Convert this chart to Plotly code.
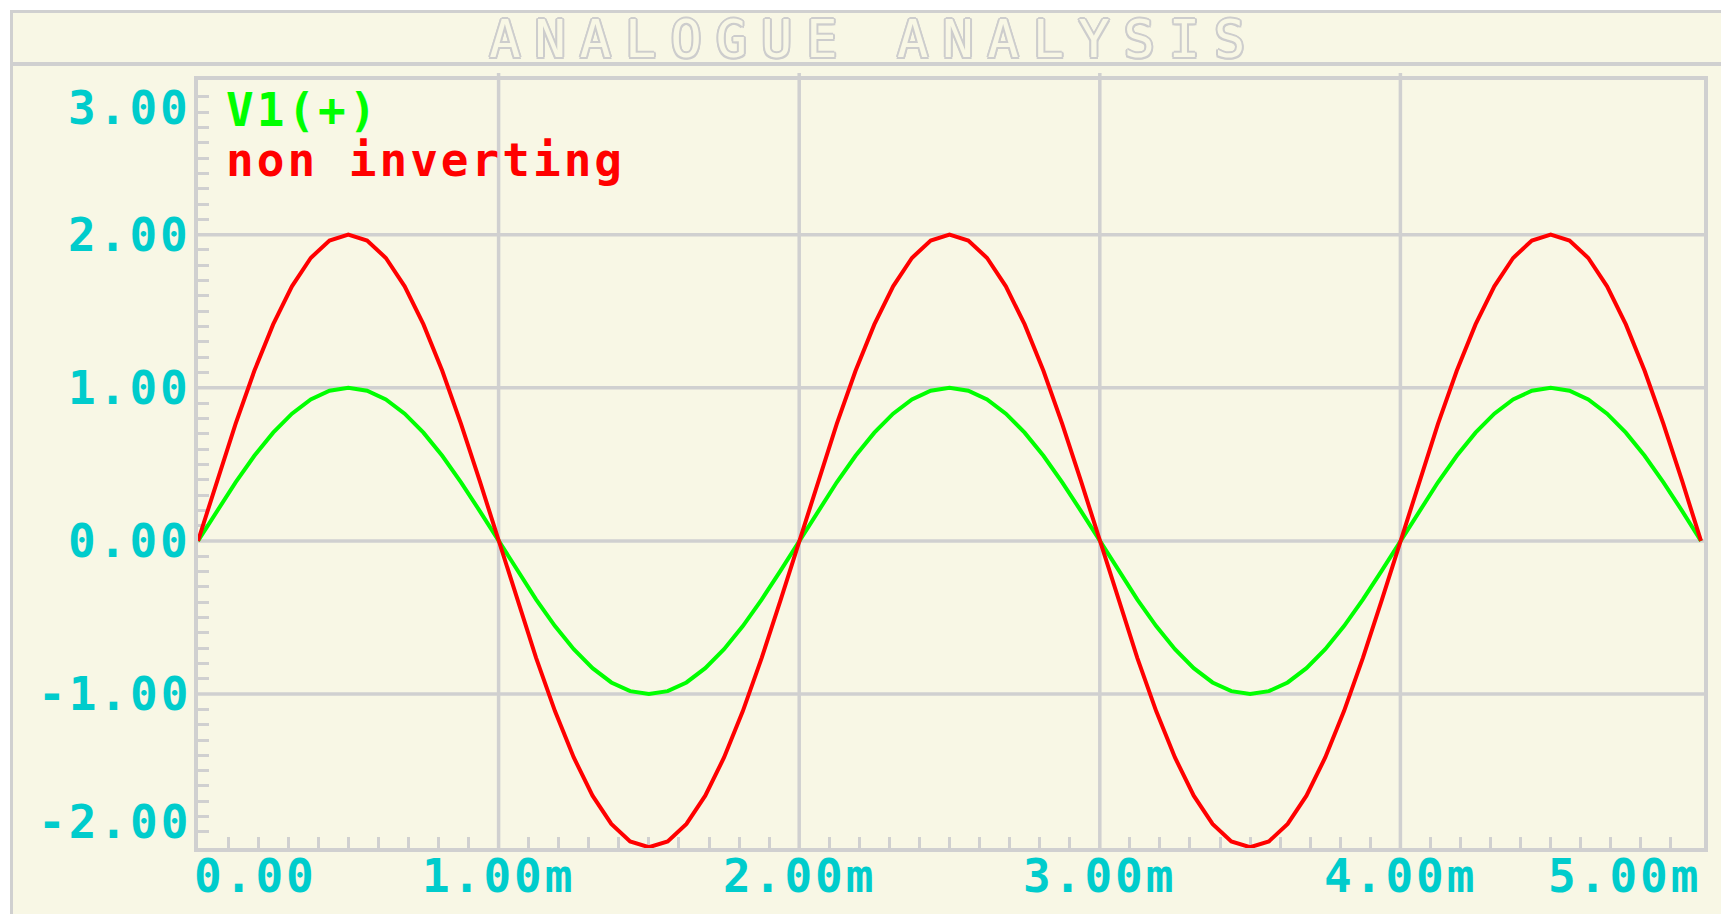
import plotly.graph_objects as go

# ---------------- data (time in ms, voltages in V) ----------------
time_ms = [
    0.0, 0.0625, 0.125, 0.1875, 0.25, 0.3125, 0.375, 0.4375,
    0.5, 0.5625, 0.625, 0.6875, 0.75, 0.8125, 0.875, 0.9375,
    1.0, 1.0625, 1.125, 1.1875, 1.25, 1.3125, 1.375, 1.4375,
    1.5, 1.5625, 1.625, 1.6875, 1.75, 1.8125, 1.875, 1.9375,
    2.0, 2.0625, 2.125, 2.1875, 2.25, 2.3125, 2.375, 2.4375,
    2.5, 2.5625, 2.625, 2.6875, 2.75, 2.8125, 2.875, 2.9375,
    3.0, 3.0625, 3.125, 3.1875, 3.25, 3.3125, 3.375, 3.4375,
    3.5, 3.5625, 3.625, 3.6875, 3.75, 3.8125, 3.875, 3.9375,
    4.0, 4.0625, 4.125, 4.1875, 4.25, 4.3125, 4.375, 4.4375,
    4.5, 4.5625, 4.625, 4.6875, 4.75, 4.8125, 4.875, 4.9375,
    5.0,
]

v1_plus = [
    0.0, 0.195, 0.383, 0.556, 0.707, 0.831, 0.924, 0.981,
    1.0, 0.981, 0.924, 0.831, 0.707, 0.556, 0.383, 0.195,
    0.0, -0.195, -0.383, -0.556, -0.707, -0.831, -0.924, -0.981,
    -1.0, -0.981, -0.924, -0.831, -0.707, -0.556, -0.383, -0.195,
    0.0, 0.195, 0.383, 0.556, 0.707, 0.831, 0.924, 0.981,
    1.0, 0.981, 0.924, 0.831, 0.707, 0.556, 0.383, 0.195,
    0.0, -0.195, -0.383, -0.556, -0.707, -0.831, -0.924, -0.981,
    -1.0, -0.981, -0.924, -0.831, -0.707, -0.556, -0.383, -0.195,
    0.0, 0.195, 0.383, 0.556, 0.707, 0.831, 0.924, 0.981,
    1.0, 0.981, 0.924, 0.831, 0.707, 0.556, 0.383, 0.195,
    0.0,
]

non_inverting = [
    0.0, 0.39, 0.765, 1.111, 1.414, 1.663, 1.848, 1.962,
    2.0, 1.962, 1.848, 1.663, 1.414, 1.111, 0.765, 0.39,
    0.0, -0.39, -0.765, -1.111, -1.414, -1.663, -1.848, -1.962,
    -2.0, -1.962, -1.848, -1.663, -1.414, -1.111, -0.765, -0.39,
    0.0, 0.39, 0.765, 1.111, 1.414, 1.663, 1.848, 1.962,
    2.0, 1.962, 1.848, 1.663, 1.414, 1.111, 0.765, 0.39,
    0.0, -0.39, -0.765, -1.111, -1.414, -1.663, -1.848, -1.962,
    -2.0, -1.962, -1.848, -1.663, -1.414, -1.111, -0.765, -0.39,
    0.0, 0.39, 0.765, 1.111, 1.414, 1.663, 1.848, 1.962,
    2.0, 1.962, 1.848, 1.663, 1.414, 1.111, 0.765, 0.39,
    0.0,
]

series_names = ["V1(+)", "non inverting"]

y_tick_vals = [3, 2, 1, 0, -1, -2]
y_tick_text = ["3.00", "2.00", "1.00", "0.00", "-1.00", "-2.00"]
y_grid_vals = [2, 1, 0, -1]

x_tick_vals = [0, 1, 2, 3, 4, 5]
x_tick_text = ["0.00", "1.00m", "2.00m", "3.00m", "4.00m", "5.00m"]
x_grid_vals = [1, 2, 3, 4]

title_text = "ANALOGUE ANALYSIS"

# ---------------- style ----------------
W, H = 1721, 914
ML, MR, MT, MB = 198, 17, 80, 66
PW, PH = W - ML - MR, H - MT - MB

CREAM = "#F8F7E5"
GREY = "#D0D0D0"
CYAN = "#00CCCC"
GREEN = "#00FF00"
RED = "#FF0000"
FONT = "DejaVu Sans Mono"
LBL_SIZE = 46
SPACING = "letter-spacing:3px"


def px_to_paper_x(px):
    return (px - ML) / PW


def px_to_paper_y(py):
    return (H - MB - py) / PH


fig = go.Figure()
fig.add_trace(go.Scatter(x=time_ms, y=v1_plus, mode="lines", name=series_names[0],
                         line=dict(color=GREEN, width=4)))
fig.add_trace(go.Scatter(x=time_ms, y=non_inverting, mode="lines", name=series_names[1],
                         line=dict(color=RED, width=4)))

shapes = []
# outer cream frame
shapes.append(dict(type="rect", xref="paper", yref="paper",
                   x0=px_to_paper_x(11.5), x1=px_to_paper_x(W + 10),
                   y0=px_to_paper_y(H + 10), y1=px_to_paper_y(11.5),
                   fillcolor=CREAM, line=dict(color=GREY, width=3), layer="below"))
# title separator
shapes.append(dict(type="line", xref="paper", yref="paper",
                   x0=px_to_paper_x(11), x1=px_to_paper_x(W + 5),
                   y0=px_to_paper_y(64), y1=px_to_paper_y(64),
                   line=dict(color=GREY, width=4), layer="below"))
# vertical grid lines with small stubs above the frame
for xv in x_grid_vals:
    shapes.append(dict(type="line", xref="x", yref="paper",
                       x0=xv, x1=xv, y0=0, y1=px_to_paper_y(73),
                       line=dict(color=GREY, width=3.5), layer="below"))
# horizontal grid lines
for yv in y_grid_vals:
    shapes.append(dict(type="line", xref="paper", yref="y",
                       x0=0, x1=1, y0=yv, y1=yv,
                       line=dict(color=GREY, width=3.5), layer="below"))

annotations = []
for v, t in zip(y_tick_vals, y_tick_text):
    if v == max(y_tick_vals):
        ya, ys = "top", 3
    elif v == min(y_tick_vals):
        ya, ys = "bottom", -4
    else:
        ya, ys = "middle", 0
    annotations.append(dict(xref="paper", yref="y", x=0, y=v, xanchor="right", yanchor=ya,
                            xshift=-5, yshift=ys, showarrow=False,
                            text=f'<span style="{SPACING}">{t}</span>',
                            font=dict(family=FONT, size=LBL_SIZE, color=CYAN, weight="bold")))
for v, t in zip(x_tick_vals, x_tick_text):
    if v == min(x_tick_vals):
        xa, xs = "left", -6
    elif v == max(x_tick_vals):
        xa, xs = "right", 2
    else:
        xa, xs = "center", 0
    annotations.append(dict(xref="x", yref="paper", x=v, y=0, xanchor=xa, yanchor="top",
                            xshift=xs, yshift=1, showarrow=False,
                            text=f'<span style="{SPACING}">{t}</span>',
                            font=dict(family=FONT, size=LBL_SIZE, color=CYAN, weight="bold")))
# legend as coloured text
for i, (name, col) in enumerate(zip(series_names, [GREEN, RED])):
    annotations.append(dict(xref="paper", yref="paper", x=0, y=1, xanchor="left", yanchor="top",
                            xshift=26, yshift=-1 - 50 * i, showarrow=False,
                            text=f'<span style="{SPACING}">{name}</span>',
                            font=dict(family=FONT, size=LBL_SIZE, color=col, weight="bold")))

outline = ", ".join(f"{dx}px {dy}px 0px #CDCDCD" for dx, dy in
                    [(2, 0), (-2, 0), (0, 2), (0, -2), (1.5, 1.5), (-1.5, -1.5), (1.5, -1.5), (-1.5, 1.5)])

fig.update_layout(
    width=W, height=H,
    margin=dict(l=ML, r=MR, t=MT, b=MB, pad=0),
    paper_bgcolor="white",
    plot_bgcolor="rgba(0,0,0,0)",
    showlegend=False,
    title=dict(text=f'<span style="letter-spacing:14px">{title_text}</span>',
               xref="container", yref="container", x=0.508, y=1 - 39 / H,
               xanchor="center", yanchor="middle",
               font=dict(family=FONT, size=52, color=CREAM, shadow=outline)),
    xaxis=dict(range=[0, 5.01], showgrid=False, zeroline=False, showticklabels=False,
               ticks="", dtick=1, tick0=0, layer="below traces",
               showline=True, mirror=True, linecolor=GREY, linewidth=4,
               minor=dict(dtick=0.1, tick0=0, ticks="inside", ticklen=11, tickwidth=3,
                          tickcolor=GREY, showgrid=False)),
    yaxis=dict(range=[-2.005, 3.01], showgrid=False,
               zeroline=False, showticklabels=False, ticks="", dtick=1, tick0=0,
               layer="below traces",
               showline=True, mirror=True, linecolor=GREY, linewidth=4,
               minor=dict(dtick=0.1, tick0=0, ticks="inside", ticklen=11, tickwidth=3,
                          tickcolor=GREY, showgrid=False)),
    shapes=shapes,
    annotations=annotations,
)

fig.write_html("out.html", config={"displayModeBar": False},
               post_script="document.body.style.margin='0';document.body.style.overflow='hidden';")
